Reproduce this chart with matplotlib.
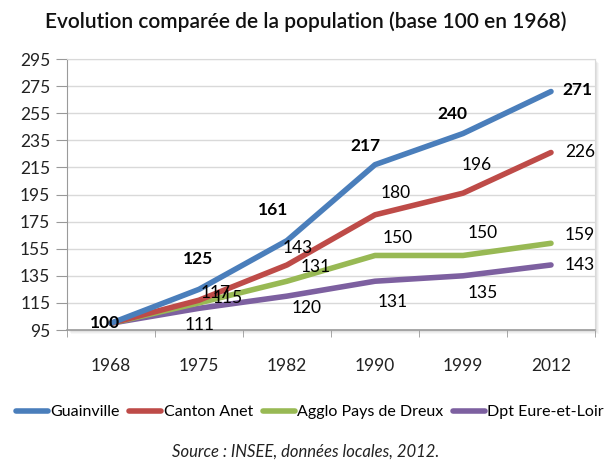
import matplotlib
matplotlib.use("Agg")
import matplotlib.pyplot as plt
from matplotlib.patches import Rectangle
import numpy as np

years = ["1968", "1975", "1982", "1990", "1999", "2012"]
guainville = [100, 125, 161, 217, 240, 271]
canton_anet = [100, 117, 143, 180, 196, 226]
agglo_dreux = [100, 115, 131, 150, 150, 159]
dpt_eure = [100, 111, 120, 131, 135, 143]
series_names = ["Guainville", "Canton Anet", "Agglo Pays de Dreux", "Dpt Eure-et-Loir"]
y_ticks = [95, 115, 135, 155, 175, 195, 215, 235, 255, 275, 295]

colors = ["#4A7EBB", "#BE4B48", "#98B954", "#7D60A0"]

# label offsets in pixels (position/style only)
offsets = [
    [(-6, 0), (-1, 30), (-14, 31), (-10, 19), (-11, 20), (26, 2)],
    [None, (17, 7), (11, 17), (21, 22), (14, 28), (29, 0)],
    [None, (29, 5), (29, 14), (23, 17), (20, 22), (29, 8)],
    [None, (1, -17), (20, -12), (18, -21), (20, -17), (29, 0)],
]

plt.rcParams['font.family'] = ['Lato', 'DejaVu Sans']

W, H = 612, 461
fig = plt.figure(figsize=(W / 100, H / 100), dpi=100)
L, R, T, B = 67, 595, 59, 330
ax = fig.add_axes([L / W, 1 - B / H, (R - L) / W, (B - T) / H])

# shadow of plot area
for i, a in enumerate([0.10, 0.10, 0.08, 0.06]):
    d = i + 1
    fig.patches.append(Rectangle(((L + d) / W, 1 - (B + d) / H), (R - L) / W, (B - T) / H,
                                 transform=fig.transFigure, facecolor="#808080", alpha=a,
                                 edgecolor="none", zorder=0))
ax.set_zorder(1)
ax.set_facecolor("white")

x = np.arange(len(years))
all_series = [guainville, canton_anet, agglo_dreux, dpt_eure]
for k in range(3, -1, -1):
    vals = all_series[k]
    ax.plot(x, vals, color=colors[k], lw=4.0, solid_capstyle="round",
            solid_joinstyle="round", label=series_names[k], zorder=3 + (3 - k))

for k, vals in enumerate(all_series):
    for i, v in enumerate(vals):
        off = offsets[k][i]
        if off is None:
            continue
        ax.annotate(str(v), (x[i], v), xytext=off, textcoords="offset pixels",
                    ha="center", va="center", fontsize=12.5,
                    fontweight="bold" if k == 0 else "normal",
                    color="black", zorder=10)

ax.set_xlim(-0.5, len(years) - 0.5)
ax.set_ylim(95, 295)
ax.set_yticks(y_ticks)
ax.set_yticklabels([str(t) for t in y_ticks], fontsize=12.5, color="#222222")
ax.set_xticks(x)
ax.set_xticklabels(years, fontsize=12.5, color="#222222")
ax.set_xticks(np.arange(-0.5, len(years)), minor=True)
ax.tick_params(axis="x", which="major", length=0, pad=20)
ax.tick_params(axis="x", which="minor", length=5, color="#999999", direction="out")
ax.tick_params(axis="y", length=8, color="#999999", pad=4)
ax.grid(axis="y", color="#D9D9D9", lw=1)
ax.set_axisbelow(True)
for s in ["top", "right"]:
    ax.spines[s].set_color("#D9D9D9")
for s in ["left", "bottom"]:
    ax.spines[s].set_color("#9A9A9A")
ax.spines["bottom"].set_linewidth(1.2)

fig.text(306 / W, 1 - 22 / H, "Evolution comparée de la population (base 100 en 1968)",
         ha="center", va="center", fontsize=15, fontweight="semibold", color="#111111")

handles, labels = ax.get_legend_handles_labels()
handles, labels = handles[::-1], labels[::-1]
fig.legend(handles, labels, loc="center", bbox_to_anchor=(310 / W, 1 - 412 / H),
           ncol=4, frameon=False, fontsize=11.5, handlelength=2.0, handletextpad=0.15,
           columnspacing=0.6, borderaxespad=0)

fig.text(306 / W, 1 - 452 / H, "Source : INSEE, données locales, 2012.",
         ha="center", va="center", fontsize=12, style="italic", color="#222222")

fig.savefig("out.png", dpi=100)
